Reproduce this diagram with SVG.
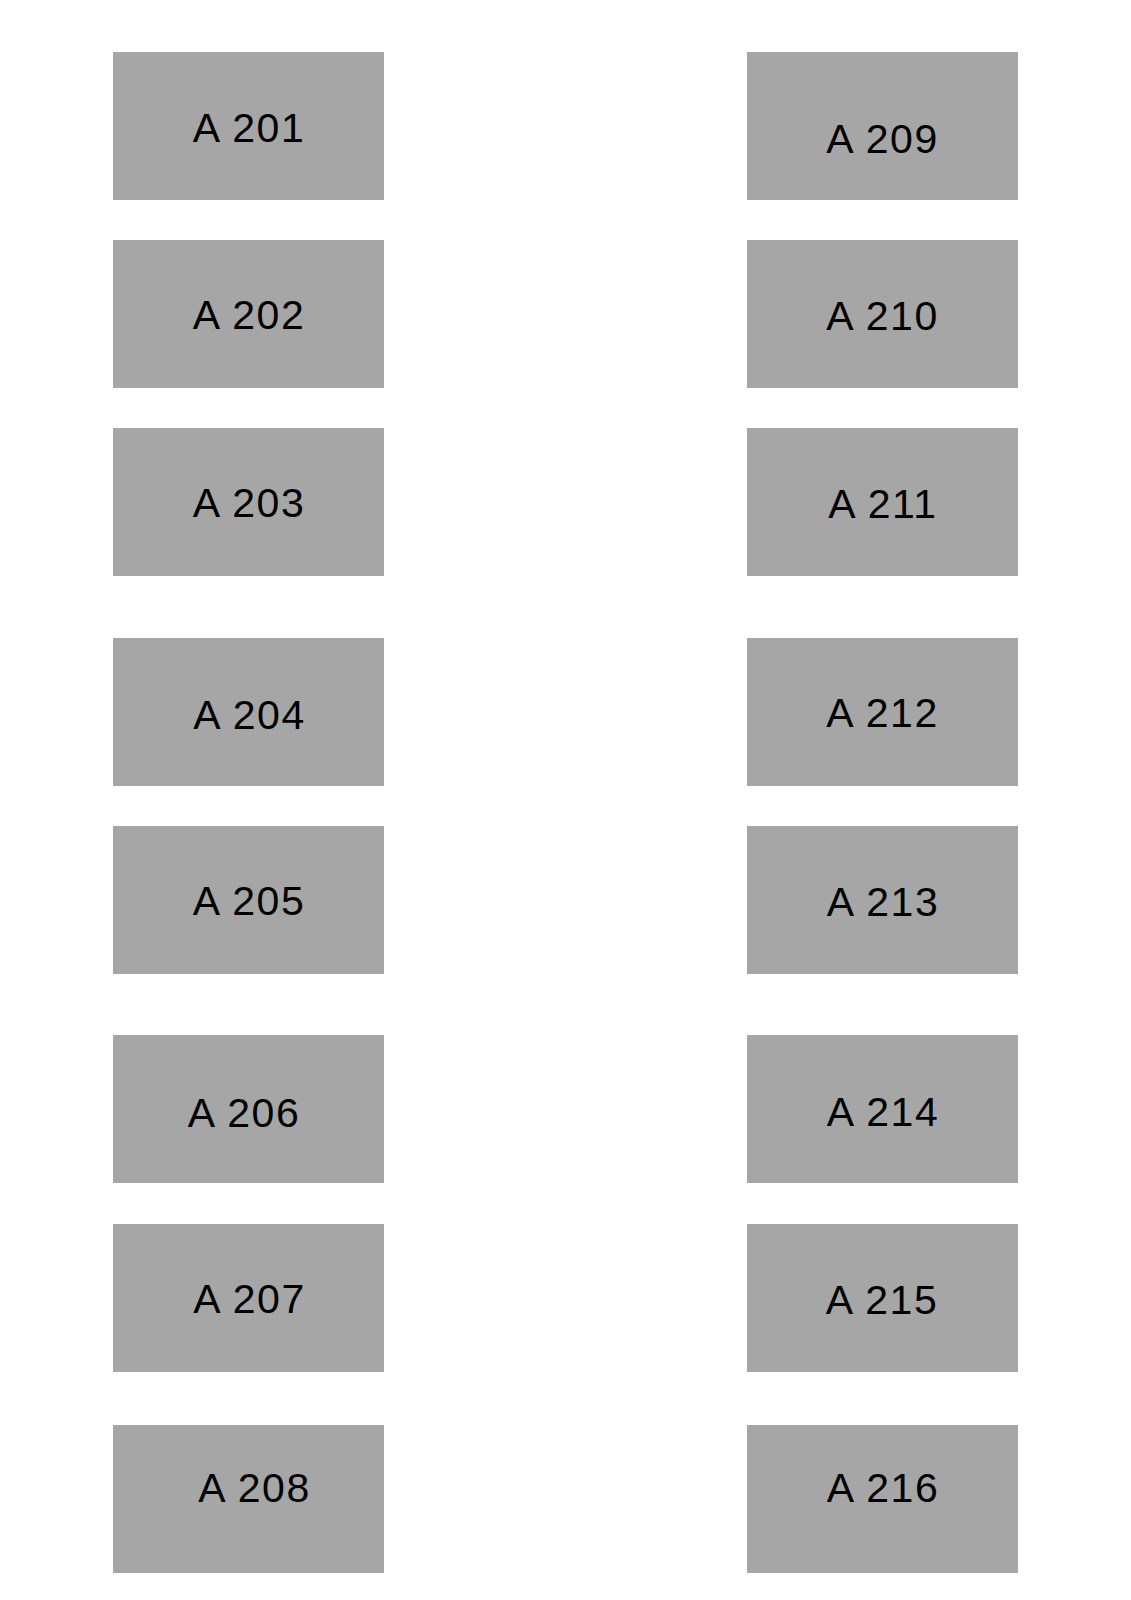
<svg xmlns="http://www.w3.org/2000/svg" width="1131" height="1600" viewBox="0 0 1131 1600">
<style>
.box{fill:#a6a6a6;}
.lbl{font-family:"Liberation Sans","Noto Sans",Arial,sans-serif;font-size:41px;fill:#000;text-anchor:middle;letter-spacing:1.5px;}
</style>
<rect width="1131" height="1600" fill="#ffffff"/>
<g id="A201"><rect class="box" x="113" y="52" width="271" height="148"/><text class="lbl" x="249" y="141.7">A 201</text></g>
<g id="A202"><rect class="box" x="113" y="240" width="271" height="148"/><text class="lbl" x="249" y="329.3">A 202</text></g>
<g id="A203"><rect class="box" x="113" y="428" width="271" height="148"/><text class="lbl" x="249" y="517.3">A 203</text></g>
<g id="A204"><rect class="box" x="113" y="638" width="271" height="148"/><text class="lbl" x="249.5" y="728.7">A 204</text></g>
<g id="A205"><rect class="box" x="113" y="826" width="271" height="148"/><text class="lbl" x="249" y="915.3">A 205</text></g>
<g id="A206"><rect class="box" x="113" y="1035" width="271" height="148"/><text class="lbl" x="244" y="1126.7">A 206</text></g>
<g id="A207"><rect class="box" x="113" y="1224" width="271" height="148"/><text class="lbl" x="249.5" y="1313.3">A 207</text></g>
<g id="A208"><rect class="box" x="113" y="1425" width="271" height="148"/><text class="lbl" x="254.5" y="1501.7">A 208</text></g>
<g id="A209"><rect class="box" x="747" y="52" width="271" height="148"/><text class="lbl" x="882.5" y="153.3">A 209</text></g>
<g id="A210"><rect class="box" x="747" y="240" width="271" height="148"/><text class="lbl" x="882.5" y="330">A 210</text></g>
<g id="A211"><rect class="box" x="747" y="428" width="271" height="148"/><text class="lbl" x="883" y="517.7">A 211</text></g>
<g id="A212"><rect class="box" x="747" y="638" width="271" height="148"/><text class="lbl" x="882.5" y="727.3">A 212</text></g>
<g id="A213"><rect class="box" x="747" y="826" width="271" height="148"/><text class="lbl" x="883" y="915.7">A 213</text></g>
<g id="A214"><rect class="box" x="747" y="1035" width="271" height="148"/><text class="lbl" x="883" y="1126">A 214</text></g>
<g id="A215"><rect class="box" x="747" y="1224" width="271" height="148"/><text class="lbl" x="882" y="1314">A 215</text></g>
<g id="A216"><rect class="box" x="747" y="1425" width="271" height="148"/><text class="lbl" x="883" y="1501.7">A 216</text></g>
<g id="connectors"></g>
</svg>
